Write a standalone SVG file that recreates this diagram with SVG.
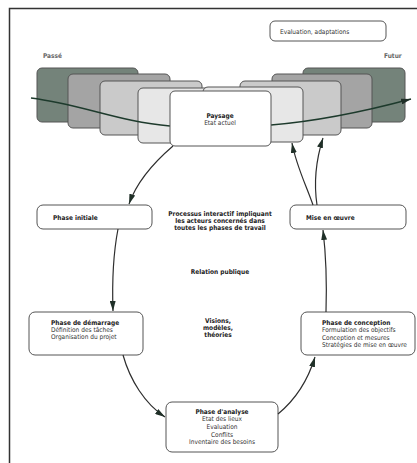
<svg xmlns="http://www.w3.org/2000/svg" width="417" height="463" viewBox="0 0 417 463">
<defs>
<style>
.box{fill:#fff;stroke:#555;stroke-width:1}
.d1{fill:#74837a;stroke:#555;stroke-width:1}
.d2{fill:#a4a4a4;stroke:#555;stroke-width:1}
.d3{fill:#cacaca;stroke:#555;stroke-width:1}
.d4{fill:#e7e7e7;stroke:#555;stroke-width:1}
.conn{fill:none;stroke:#2e2e2e;stroke-width:1.2}
.time{fill:none;stroke:#1d3a2c;stroke-width:1.4}
text{font-family:"Liberation Sans Narrow","DejaVu Sans Condensed","Liberation Sans",sans-serif;font-size:6.5px;fill:#333}
.b{font-weight:bold;fill:#222}
.m{text-anchor:middle}
.g{fill:#666}
</style>
<marker id="ah" viewBox="0 0 10 6" refX="10" refY="3" markerWidth="10" markerHeight="6" markerUnits="userSpaceOnUse" orient="auto">
<path d="M0,0 L10,3 L0,6 Z" fill="#1f2f27"/>
</marker>
</defs>
<rect x="0" y="0" width="417" height="463" fill="#fff"/>
<path d="M9.5,463 L9.5,8.5 L417,8.5" fill="none" stroke="#333" stroke-width="1.5"/>

<g id="passe"><text x="43" y="58" class="b g">Passé</text></g>
<g id="futur"><text x="384" y="58" class="b g">Futur</text></g>
<g id="evaluation">
<rect class="box" x="270" y="21" width="116" height="20" rx="5"/>
<text x="280" y="33.5">Evaluation, adaptations</text>
</g>

<g id="stack-left">
<rect class="d1" x="37" y="68" width="101" height="54" rx="5"/>
<rect class="d2" x="68" y="74" width="102" height="54" rx="5"/>
<rect class="d3" x="100" y="81" width="102" height="54" rx="5"/>
<rect class="d4" x="138" y="88" width="100" height="55" rx="5"/>
</g>
<g id="stack-right">
<rect class="d1" x="303" y="68" width="102" height="54" rx="5"/>
<rect class="d2" x="272" y="74" width="100" height="54" rx="5"/>
<rect class="d3" x="240" y="81" width="101" height="54" rx="5"/>
<rect class="d4" x="203" y="87" width="100" height="55" rx="5"/>
</g>

<g id="timeline">
<path class="time" d="M31,98 C80,104 120,122 170,126"/>
<path class="time" d="M271,125 C320,121 370,110 411,99" marker-end="url(#ah)"/>
</g>

<g id="paysage">
<rect class="box" x="170" y="91" width="101" height="55" rx="5"/>
<text x="220" y="118" class="b m">Paysage</text>
<text x="220" y="125" class="m">Etat actuel</text>
</g>

<g id="phase-initiale">
<rect class="box" x="37" y="205" width="115" height="24" rx="6"/>
<text x="53" y="219.5" class="b">Phase initiale</text>
</g>
<g id="mise-en-oeuvre">
<rect class="box" x="290" y="205" width="116" height="24" rx="6"/>
<text x="306" y="219.5" class="b">Mise en œuvre</text>
</g>
<g id="phase-demarrage">
<rect class="box" x="29" y="312" width="114" height="43" rx="6"/>
<text x="51" y="325" class="b">Phase de démarrage</text>
<text x="51" y="332">Définition des tâches</text>
<text x="51" y="339">Organisation du projet</text>
</g>
<g id="phase-conception">
<rect class="box" x="301" y="312" width="114" height="43" rx="6"/>
<text x="322" y="325" class="b">Phase de conception</text>
<text x="322" y="332">Formulation des objectifs</text>
<text x="322" y="340">Conception et mesures</text>
<text x="322" y="347">Stratégies de mise en œuvre</text>
</g>
<g id="phase-analyse">
<rect class="box" x="166" y="402" width="112" height="50" rx="6"/>
<text x="222" y="414" class="b m">Phase d'analyse</text>
<text x="222" y="421" class="m">Etat des lieux</text>
<text x="222" y="429" class="m">Evaluation</text>
<text x="222" y="436.5" class="m">Conflits</text>
<text x="222" y="444" class="m">Inventaire des besoins</text>
</g>

<g id="center-text">
<text x="220" y="216" class="b m">Processus interactif impliquant</text>
<text x="220" y="223" class="b m">les acteurs concernés dans</text>
<text x="220" y="230" class="b m">toutes les phases de travail</text>
<text x="220" y="274" class="b m">Relation publique</text>
<text x="218" y="323" class="b m">Visions,</text>
<text x="218" y="330" class="b m">modèles,</text>
<text x="218" y="337" class="b m">théories</text>
</g>

<g id="connectors">
<path class="conn" d="M173,146 C152,164 136,184 129,204" marker-end="url(#ah)"/>
<path class="conn" d="M118,229 C113,255 112,282 113,311" marker-end="url(#ah)"/>
<path class="conn" d="M123,355 C130,380 145,404 165,417" marker-end="url(#ah)"/>
<path class="conn" d="M278,414 C295,400 308,380 315,357" marker-end="url(#ah)"/>
<path class="conn" d="M326,312 C327,280 326,255 323,230" marker-end="url(#ah)"/>
<path class="conn" d="M313,205 C306,185 296,165 292,143" marker-end="url(#ah)"/>
<path class="conn" d="M317,205 C314,185 316,160 323,138" marker-end="url(#ah)"/>
</g>
</svg>
